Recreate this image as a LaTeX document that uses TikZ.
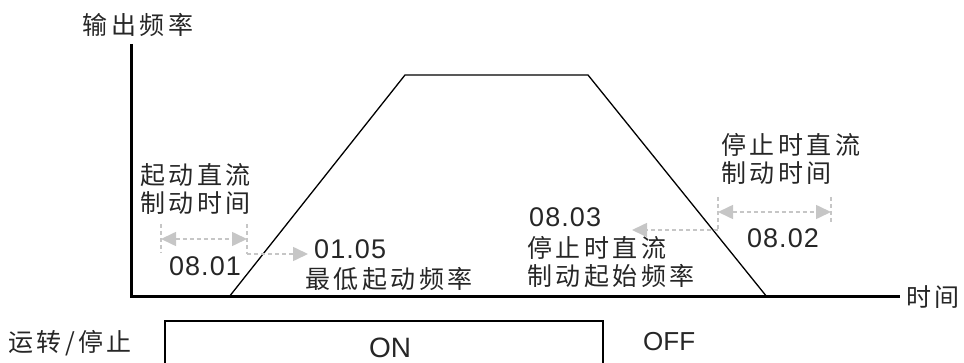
\documentclass[tikz,border=0pt]{standalone}
\usepackage{fontspec}
\setmainfont{Liberation Sans}
\newfontfamily\cjk[LetterSpace=14]{Noto Sans CJK SC}
\usetikzlibrary{arrows.meta, positioning}

\begin{document}
\begin{tikzpicture}[
    x=1pt, y=-1pt,
    axis/.style={line width=3pt, line join=miter},
    curve/.style={line width=1.3pt, line join=miter},
    dim/.style={gray!45, line width=1.6pt, dash pattern=on 4pt off 3pt},
    dimarrow/.style={dim, -{Triangle[length=15pt, width=14pt]}},
    dimboth/.style={dim, {Triangle[length=15pt, width=14pt]}-{Triangle[length=15pt, width=14pt]}},
    cn/.style={font=\cjk\fontsize{25}{27.5}\selectfont, align=left, inner sep=0pt, text=black!85},
    num/.style={font=\addfontfeature{LetterSpace=4}\fontsize{27}{29}\selectfont, inner sep=0pt, text=black!85},
]
    \useasboundingbox (0,0) rectangle (964,363);

    % Axes
    \coordinate (ytop) at (131,44);
    \coordinate (origin) at (131,297);
    \coordinate (xend) at (900,297);
    \draw[axis] (ytop) -- (origin) -- (xend);
    \node[cn] (ylabel) at (138,25) {输出频率};
    \node[cn, right=6pt of xend] (xlabel) {时间};

    % Output frequency curve
    \coordinate (rise0) at (229,297);
    \coordinate (rise1) at (405,75);
    \coordinate (fall0) at (588,75);
    \coordinate (fall1) at (767,297);
    \draw[curve] (rise0) -- (rise1) -- (fall0) -- (fall1);

    % Start DC braking
    \coordinate (sL0) at (161,224);
    \coordinate (sL1) at (161,253);
    \coordinate (sLm) at (161,239);
    \coordinate (sR0) at (247,224);
    \coordinate (sR1) at (247,254);
    \coordinate (sRm) at (247,239);
    \coordinate (sEnd) at (308,254);
    \draw[dim] (sL0) -- (sL1);
    \draw[dim] (sR0) -- (sR1);
    \draw[dimboth] (sLm) -- (sRm);
    \draw[dimarrow] (sR1) -- (sEnd);
    \node[cn, anchor=west] (startlbl) at (140,189) {起动直流\\制动时间};
    \node[num] (p0801) at (205,266) {08.01};
    \node[num, anchor=west] (p0105) at (314,249) {01.05};
    \node[cn, anchor=west] (minfreq) at (305,279) {最低起动频率};

    % Stop DC braking
    \coordinate (tL0) at (718,197);
    \coordinate (tL1) at (718,230);
    \coordinate (tLm) at (718,212);
    \coordinate (tR0) at (831,197);
    \coordinate (tR1) at (831,224);
    \coordinate (tRm) at (831,212);
    \coordinate (tEnd) at (632,230);
    \draw[dim] (tL0) -- (tL1);
    \draw[dim] (tR0) -- (tR1);
    \draw[dimboth] (tLm) -- (tRm);
    \draw[dimarrow] (tL1) -- (tEnd);
    \node[cn, anchor=west] (stoplbl) at (721,159) {停止时直流\\制动时间};
    \node[num] (p0802) at (783,238) {08.02};
    \node[num, anchor=west] (p0803) at (529,217) {08.03};
    \node[cn, anchor=west] (stopfreq) at (527,262) {停止时直流\\制动起始频率};

    % Run/stop signal
    \coordinate (onA) at (165,370);
    \coordinate (onB) at (165,321);
    \coordinate (onC) at (603,321);
    \coordinate (onD) at (603,370);
    \draw[line width=1.2pt] (onA) -- (onB) -- (onC) -- (onD);
    \node[cn, anchor=west] (runlbl) at (8,343) {运转/停止};
    \node[num, font=\fontsize{28}{30}\selectfont] (onlbl) at (390,348) {ON};
    \node[num, font=\fontsize{26}{28}\selectfont, anchor=west] (offlbl) at (643,342) {OFF};
\end{tikzpicture}
\end{document}
